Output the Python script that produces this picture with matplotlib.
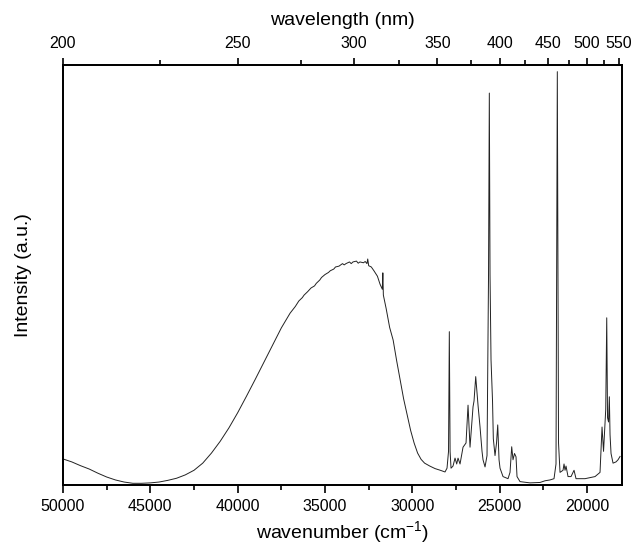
import numpy as np
import matplotlib.pyplot as plt

plt.rcParams['font.family'] = ['Liberation Sans', 'DejaVu Sans']
plt.rcParams['mathtext.fontset'] = 'custom'
plt.rcParams['mathtext.rm'] = 'Liberation Sans'

# spectrum: wavenumber (cm-1) and intensity (a.u., axis top = 1)
wavenumber = [
    50000, 49500, 49000, 48500, 48000, 47500, 47000, 46500, 46000, 45500,
    45000, 44500, 44000, 43500, 43000, 42500, 42000, 41500, 41000, 40500,
    40000, 39500, 39000, 38500, 38000, 37500, 37000, 36700, 36500, 36300,
    36200, 36000, 35800, 35600, 35500, 35300, 35200, 35000, 34800, 34700,
    34500, 34400, 34200, 34000, 33900, 33800, 33600, 33500, 33400, 33200,
    33100, 33000, 32800, 32700, 32600, 32555, 32500, 32350, 32200, 32000,
    31850, 31720, 31690, 31660, 31500, 31300, 31100, 30900, 30700, 30500,
    30300, 30100, 29900, 29700, 29500, 29300, 29000, 28700, 28400, 28131,
    28016, 27930, 27884, 27840, 27787, 27673, 27558, 27461, 27386, 27271,
    27099, 26928, 26813, 26699, 26584, 26527, 26470, 26373, 26281, 26241,
    26126, 26012, 25955, 25840, 25726, 25640, 25594, 25554, 25497, 25411,
    25365, 25268, 25182, 25113, 25038, 24981, 24810, 24524, 24409, 24313,
    24238, 24152, 24066, 24009, 23837, 23264, 22692, 22406, 22120, 21891,
    21777, 21702, 21633, 21547, 21375, 21318, 21260, 21203, 21089, 20917,
    20745, 20631, 20115, 19543, 19257, 19142, 19056, 18930, 18873, 18827,
    18770, 18724, 18684, 18627, 18512, 18340, 18226, 18110,
]
intensity = [
    0.062, 0.055, 0.046, 0.038, 0.028, 0.019, 0.012, 0.007, 0.004, 0.004,
    0.005, 0.007, 0.011, 0.016, 0.024, 0.035, 0.052, 0.076, 0.104, 0.136,
    0.172, 0.211, 0.251, 0.292, 0.333, 0.374, 0.409, 0.425, 0.438, 0.446,
    0.452, 0.460, 0.469, 0.474, 0.480, 0.488, 0.494, 0.501, 0.506, 0.510,
    0.514, 0.519, 0.521, 0.527, 0.524, 0.527, 0.531, 0.527, 0.531, 0.533,
    0.528, 0.531, 0.529, 0.532, 0.527, 0.538, 0.522, 0.519, 0.510, 0.497,
    0.478, 0.466, 0.505, 0.452, 0.420, 0.375, 0.345, 0.296, 0.250, 0.205,
    0.168, 0.130, 0.100, 0.076, 0.061, 0.052, 0.045, 0.039, 0.035, 0.031,
    0.040, 0.080, 0.365, 0.080, 0.040, 0.045, 0.064, 0.050, 0.064, 0.050,
    0.090, 0.100, 0.190, 0.090, 0.155, 0.186, 0.200, 0.258, 0.210, 0.190,
    0.138, 0.080, 0.060, 0.043, 0.070, 0.500, 0.933, 0.500, 0.298, 0.200,
    0.110, 0.070, 0.100, 0.143, 0.060, 0.040, 0.020, 0.015, 0.030, 0.091,
    0.060, 0.075, 0.067, 0.020, 0.008, 0.005, 0.006, 0.010, 0.012, 0.015,
    0.050, 0.984, 0.100, 0.030, 0.035, 0.050, 0.035, 0.045, 0.020, 0.020,
    0.035, 0.015, 0.015, 0.020, 0.030, 0.138, 0.080, 0.180, 0.398, 0.160,
    0.150, 0.210, 0.120, 0.075, 0.052, 0.055, 0.060, 0.068,
]

wl_major = [200, 250, 300, 350, 400, 450, 500, 550]
wl_minor = [225, 275, 325, 375, 425, 475, 525]

fig = plt.figure(figsize=(6.33, 5.48), dpi=100)
ax = fig.add_axes([0.0995, 0.115, 0.8831, 0.7665])

ax.plot(wavenumber, intensity, color='#222222', lw=0.7)
ax.set_xlim(50000, 18000)
ax.set_ylim(0, 1)
ax.set_xticks([50000, 45000, 40000, 35000, 30000, 25000, 20000])
ax.set_xticks(np.arange(47500, 18000, -5000), minor=True)
ax.set_yticks([])
ax.tick_params(axis='x', which='major', direction='out', length=6, width=1.2,
               labelsize=11.5, pad=4)
ax.tick_params(axis='x', which='minor', direction='out', length=3.5, width=1.2)
ax.set_xlabel('wavenumber (cm$^{\\mathregular{-1}}$)', fontsize=14, labelpad=4)
ax.set_ylabel('Intensity (a.u.)', fontsize=14, labelpad=22)
for s in ax.spines.values():
    s.set_linewidth(1.3)

top = ax.twiny()
top.set_xlim(ax.get_xlim())
top.set_xticks([1e7 / w for w in wl_major])
top.set_xticklabels([str(w) for w in wl_major])
top.set_xticks([1e7 / w for w in wl_minor], minor=True)
top.tick_params(axis='x', which='major', direction='out', length=5, width=1.2,
                labelsize=11.5, pad=5)
top.tick_params(axis='x', which='minor', direction='out', length=3.5, width=1.2)
top.set_xlabel('wavelength (nm)', fontsize=14, labelpad=8)
for s in top.spines.values():
    s.set_linewidth(1.3)

fig.savefig('out.png', dpi=100)
